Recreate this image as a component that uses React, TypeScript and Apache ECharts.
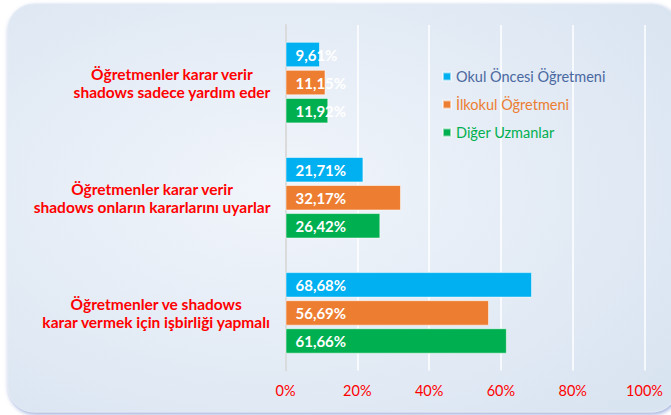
import React, { useEffect, useRef } from "react";
import * as echarts from "echarts";

const categories = [
  "Öğretmenler karar verir\nshadows sadece yardım eder",
  "Öğretmenler karar verir\nshadows onların kararlarını uyarlar",
  "Öğretmenler ve shadows\nkarar vermek için işbirliği yapmalı",
];
const seriesNames = ["Okul Öncesi Öğretmeni", "İlkokul Öğretmeni", "Diğer Uzmanlar"];
const okulOncesi = [9.61, 21.71, 68.68];
const ilkokul = [11.15, 32.17, 56.69];
const digerUzmanlar = [11.92, 26.42, 61.66];
const xTicks = [0, 20, 40, 60, 80, 100];

const colors = ["#00B0F0", "#ED7D31", "#00B050"];
const legendColors = ["#4A68A0", "#ED7D31", "#00B050"];
const FONT = "Lato, 'Open Sans', sans-serif";

export default function App() {
  const ref = useRef<HTMLDivElement>(null);
  useEffect(() => {
    if (!ref.current) return;
    const chart = echarts.init(ref.current, undefined, { renderer: "svg" });
    const values = [okulOncesi, ilkokul, digerUzmanlar];
    chart.setOption({
      animation: false,
      textStyle: { fontFamily: FONT },
      graphic: [
        {
          type: "rect",
          z: -10,
          silent: true,
          shape: { x: 8, y: 4, width: 670, height: 408, r: 26 },
          style: {
            fill: new echarts.graphic.RadialGradient(0.4, 0.45, 0.75, [
              { offset: 0, color: "#F1F5FB" },
              { offset: 1, color: "#D9E4F1" },
            ]),
            stroke: "#E4EBF4",
            lineWidth: 1,
            shadowBlur: 4,
            shadowOffsetX: 1,
            shadowOffsetY: 2,
            shadowColor: "rgba(90,120,200,0.6)",
          },
        },
      ],
      grid: { left: 285.5, right: 26.5, top: 25, bottom: 44.5, containLabel: false },
      legend: {
        orient: "vertical",
        left: 437,
        top: 64,
        itemGap: 13,
        itemWidth: 8,
        itemHeight: 8,
        icon: "rect",
        textStyle: { fontSize: 14.5, fontFamily: FONT },
        data: seriesNames.map((n, i) => ({ name: n, textStyle: { color: legendColors[i] } })),
      },
      xAxis: {
        type: "value",
        min: xTicks[0],
        max: xTicks[xTicks.length - 1],
        interval: 20,
        axisLine: { show: false },
        axisTick: { show: false },
        splitLine: { show: true, lineStyle: { color: "#FFFFFF", width: 1.5 } },
        axisLabel: {
          formatter: "{value}%",
          color: "#FF0000",
          fontSize: 14.5,
          fontFamily: FONT,
          margin: 12,
        },
      },
      yAxis: {
        type: "category",
        inverse: true,
        data: categories,
        axisLine: { show: true, lineStyle: { color: "#D0D0D0", width: 1.5 } },
        axisTick: { show: false },
        axisLabel: {
          margin: 15,
          formatter: (v: string) => v.split("\n").map((l) => `{a|${l}}`).join("\n"),
          rich: {
            a: {
              align: "center",
              color: "#FF0000",
              fontWeight: "bold",
              fontSize: 15.5,
              fontFamily: FONT,
              lineHeight: 18,
            },
          },
        },
      },
      series: seriesNames.map((name, i) => ({
        name,
        type: "bar",
        data: values[i],
        barWidth: 25.5,
        barGap: "10%",
        itemStyle: { color: colors[i], borderColor: "rgba(255,255,255,0.55)", borderWidth: 1 },
        label: {
          show: true,
          position: "insideLeft",
          distance: 10,
          color: "#FFFFFF",
          fontWeight: "bold",
          fontSize: 15,
          fontFamily: FONT,
          formatter: (p: any) => p.value.toFixed(2).replace(".", ",") + "%",
        },
      })),
    });
    return () => chart.dispose();
  }, []);
  return (
    <div
      ref={ref}
      style={{ position: "fixed", left: 0, top: 0, width: 671, height: 415, background: "#FFFFFF" }}
    />
  );
}
